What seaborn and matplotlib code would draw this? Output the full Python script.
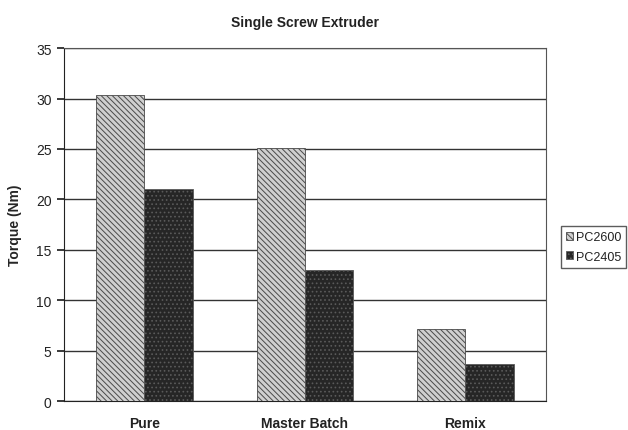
import matplotlib
matplotlib.use("Agg")
import matplotlib.pyplot as plt
import seaborn as sns
import pandas as pd
from matplotlib.patches import Patch

categories = ["Pure", "Master Batch", "Remix"]
series = ["PC2600", "PC2405"]
pc2600 = [30.4, 25.1, 7.2]
pc2405 = [21.0, 13.0, 3.7]

df = pd.DataFrame({
    "cat": categories * 2,
    "series": [series[0]] * 3 + [series[1]] * 3,
    "val": pc2600 + pc2405,
})

sns.set_theme(style="white")
plt.rcParams['font.family'] = ['Liberation Sans', 'DejaVu Sans']
plt.rcParams['hatch.linewidth'] = 0.7
plt.rcParams['text.color'] = '#222222'
plt.rcParams['xtick.color'] = '#222222'
plt.rcParams['ytick.color'] = '#222222'

fig = plt.figure(figsize=(6.28, 4.31), dpi=100)
ax = fig.add_axes([0.102, 0.067, 0.767, 0.819])

sns.barplot(data=df, x="cat", y="val", hue="series", order=categories,
            hue_order=series, width=0.6, ax=ax, legend=False, zorder=3,
            palette=["#b8b8b8", "#2a2a2a"], saturation=1)

styles = [dict(fc="#d0d0d0", hatch="\\\\\\\\\\\\", ec="#4a4a4a"),
          dict(fc="#262626", hatch="....", ec="#5a5a5a")]
for cont, st in zip(ax.containers, styles):
    for p in cont:
        p.set_facecolor(st["fc"])
        p.set_hatch(st["hatch"])
        p.set_edgecolor(st["ec"])
        p.set_linewidth(0.6)

ax.set_ylim(0, 35)
ax.set_yticks(range(0, 36, 5))
ax.yaxis.grid(True, color="#333333", linewidth=1.0, zorder=0)
ax.set_axisbelow(True)
for s in ax.spines.values():
    s.set_visible(True)
    s.set_color("#555555")
    s.set_linewidth(0.8)
ax.spines["left"].set_color("#222222")
ax.spines["bottom"].set_color("#222222")
ax.tick_params(axis="y", left=True, length=5, color="#222222", labelsize=10, pad=4)
ax.tick_params(axis="x", bottom=False, labelsize=10, pad=5)
for lbl in ax.get_xticklabels():
    lbl.set_fontweight("bold")
ax.set_xlabel("")
ax.set_ylabel("Torque (Nm)", fontsize=10, fontweight="bold", labelpad=10)
ax.set_title("Single Screw Extruder", fontsize=10, fontweight="bold", pad=16)

handles = [Patch(facecolor=st["fc"], hatch=st["hatch"], edgecolor=st["ec"], linewidth=0.6)
           for st in styles]
leg = fig.legend(handles, series, loc="center left", bbox_to_anchor=(0.893, 0.425),
                 fontsize=9, frameon=True, fancybox=False, handlelength=0.6,
                 handleheight=0.6, handletextpad=0.2, borderpad=0.4,
                 labelspacing=0.6, borderaxespad=0)
leg.get_frame().set_edgecolor("#333333")
leg.get_frame().set_linewidth(1.0)

fig.savefig("out.png", dpi=100)
